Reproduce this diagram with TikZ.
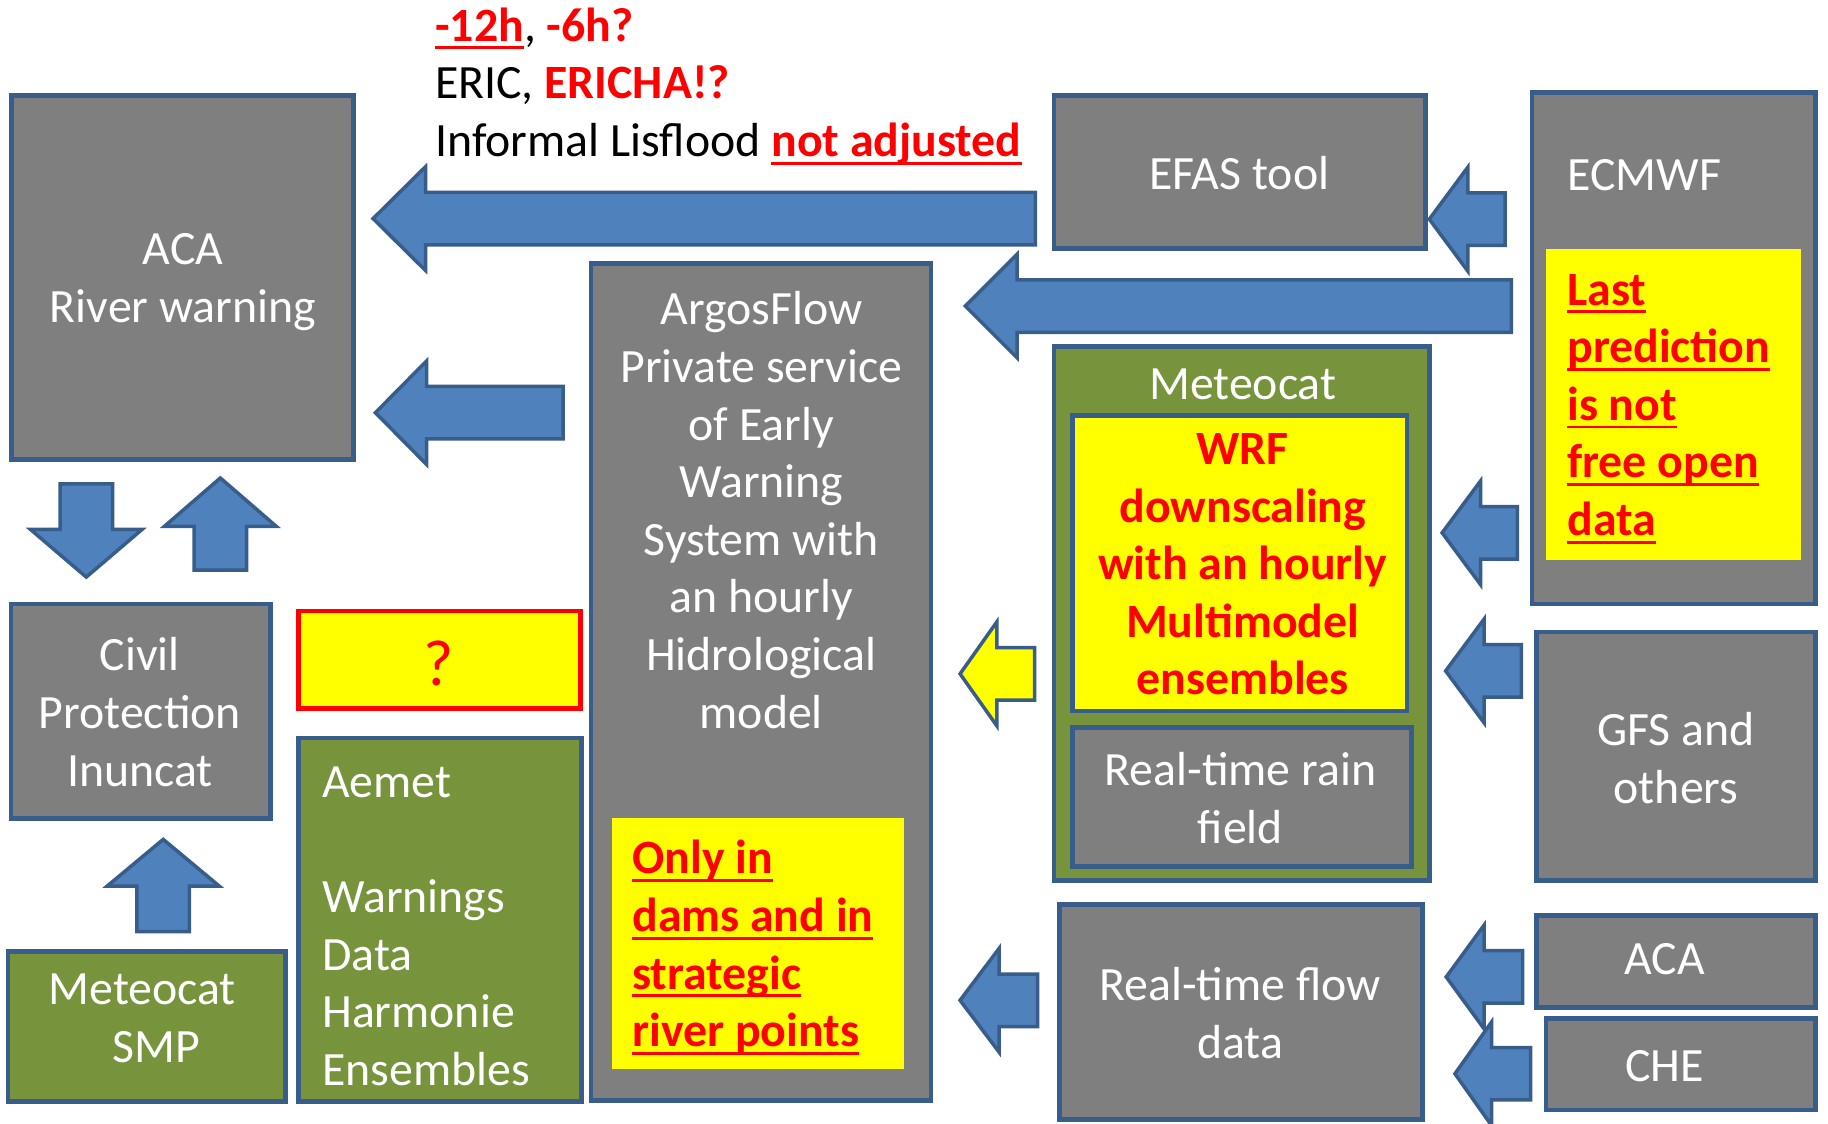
\documentclass[tikz,border=0pt]{standalone}
\usepackage{fontspec}
\setmainfont{Carlito}
\usetikzlibrary{fit}
\definecolor{bord}{HTML}{385D8A}
\definecolor{boxgray}{HTML}{7F7F7F}
\definecolor{ablue}{HTML}{4F81BD}
\definecolor{ogreen}{HTML}{77933C}
\definecolor{yel}{HTML}{FFFF00}
\definecolor{rd}{HTML}{FF0000}
\newcommand\fs{\fontsize{20.5bp}{24.7bp}\selectfont}
\newcommand\tstrut{\rule[-0.25em]{0pt}{1.1em}}
\newcommand\myul[1]{\setbox0\hbox{#1}\rlap{\rule[-0.17em]{\wd0}{0.06em}}\box0}
% left-pointing block arrow: [style] tipx tipy headlen endx
\newcommand\blkL[5][]{\draw[blk,#1] (#2,#3) -- ({#2+#4},{#3-44.5}) -- ({#2+#4},{#3-22.5}) -- (#5,{#3-22.5}) -- (#5,{#3+22.5}) -- ({#2+#4},{#3+22.5}) -- ({#2+#4},{#3+44.5}) -- cycle;}
% vertical block arrow: [style] tipx tipy signed-headlen endy
\newcommand\blkV[5][]{\draw[blk,#1] (#2,#3) -- ({#2-48},{#3+#4}) -- ({#2-22.5},{#3+#4}) -- ({#2-22.5},#5) -- ({#2+22.5},#5) -- ({#2+22.5},{#3+#4}) -- ({#2+48},{#3+#4}) -- cycle;}
\tikzset{
  box/.style={draw=bord, line width=2bp, fill=boxgray, inner sep=0pt, outer sep=0pt},
  gbox/.style={box, fill=ogreen},
  ybox/.style={fill=yel, draw=none, inner sep=0pt, outer sep=0pt},
  blk/.style={draw=bord, line width=1.5bp, fill=ablue},
  txt/.style={inner sep=0pt, yshift=-2.5bp, font=\fs, execute at begin node=\tstrut, execute at end node=\tstrut},
  single/.style={yshift=1.5bp},
  wtxt/.style={txt, text=white, align=center},
  wltxt/.style={txt, text=white, align=left, anchor=west},
  rtxt/.style={txt, text=rd, align=center, font=\fs\bfseries},
  rltxt/.style={txt, text=rd, align=left, anchor=west, font=\fs\bfseries},
}
\begin{document}
\begin{tikzpicture}[x=0.5bp, y=-0.5bp]
\useasboundingbox (0,0) rectangle (1568,964);
\clip (0,0) rectangle (1568,964);

% ---------- boxes ----------
\node[box, fit={(10,82) (303,394)}] (aca) {};
\node[box, fit={(904,82) (1222.5,213)}] (efas) {};
\node[box, fit={(1314,79.5) (1557,518)}] (ecmwf) {};
\node[ybox, fit={(1326,214) (1545,480)}] (lastbox) {};
\node[box, fit={(507,226) (798.5,944)}] (argos) {};
\node[ybox, fit={(525,702) (775,917)}] (onlybox) {};
\node[gbox, fit={(904,297) (1226,755)}] (meteo) {};
\node[box, fill=yel, fit={(920,356.5) (1207,610)}] (wrf) {};
\node[box, fit={(920,624) (1211,743)}] (rain) {};
\node[box, fit={(909,776) (1220,960)}] (flow) {};
\node[box, fit={(1318,542) (1557.5,755)}] (gfs) {};
\node[box, fit={(1318,785.5) (1557.5,864)}] (acas) {};
\node[box, fit={(1326,873.5) (1557.5,952)}] (che) {};
\node[box, fit={(9.5,518) (232,702)}] (civil) {};
\node[box, fill=yel, draw=rd, fit={(256,524) (498,608)}] (qbox) {};
\node[gbox, fit={(256,633) (499,945)}] (aemet) {};
\node[gbox, fit={(7,816) (245,945)}] (smp) {};

% ---------- block arrows ----------
\blkL{320}{187.5}{45}{888}
\blkL{1226}{188}{33}{1291}
\blkL{828}{262.5}{44.5}{1296.5}
\blkL{322}{354}{44}{483}
\blkL[fill=yel]{823.5}{578}{31.5}{887.5}
\blkL{823.5}{858}{33.5}{890}
\blkL{1237}{457}{33}{1301.5}
\blkL{1240}{575.5}{33}{1305}
\blkL{1240.5}{838}{32.5}{1306}
\blkL{1248}{921}{31.5}{1313}
\blkV{74}{495}{-41}{415}
\blkV{189}{410}{41.5}{489}
\blkV{140}{720}{40}{799}

% ---------- texts ----------
\node[txt, anchor=west, align=left] (note) at (373,70.5)
  {\textcolor{rd}{\bfseries\myul{-12h}}, \textcolor{rd}{\bfseries -6h?}\\
   ERIC, \textcolor{rd}{\bfseries ERICHA!?}\\
   Informal Lisflood \textcolor{rd}{\bfseries\myul{not adjusted}}};
\node[wtxt] (acat) at (157,238.5) {ACA\\River warning};
\node[wtxt, single] (efast) at (1063,148) {EFAS tool};
\node[wltxt, single] (ecmwft) at (1344,149.5) {ECMWF};
\node[rltxt] (lastt) at (1344,347.3) {\myul{Last}\\\myul{prediction}\\\myul{is not}\\\myul{free open}\\\myul{data}};
\node[wtxt] (argost) at (653,437.5) {ArgosFlow\\Private service\\of Early\\Warning\\System with\\an hourly\\Hidrological\\model};
\node[rltxt] (onlyt) at (542,809.5) {\myul{Only in}\\\myul{dams and in}\\\myul{strategic}\\\myul{river points}};
\node[wtxt] (civilt) at (120,610.7) {Civil\\Protection\\Inuncat};
\node[txt, text=rd, font=\fontsize{28bp}{33bp}\selectfont] (qt) at (376.5,566.6) {?};
\node[wltxt] (aemett) at (276,794.3) {Aemet\\[24.7bp]Warnings\\Data\\Harmonie\\Ensembles};
\node[wtxt] (smpt) at (134,873.5) {Meteocat\hspace*{12bp}\\SMP};
\node[wtxt, single] (meteot) at (1066,328) {Meteocat};
\node[rtxt] (wrft) at (1066,484) {WRF\\downscaling\\with an hourly\\Multimodel\\ensembles};
\node[wtxt] (raint) at (1064,684.7) {Real-time rain\\field};
\node[wtxt] (gfst) at (1437.7,650) {GFS and\\others};
\node[wtxt, single] (acast) at (1428,822) {ACA};
\node[wtxt, single] (chet) at (1428,913.6) {CHE};
\node[wtxt] (flowt) at (1063.7,869) {Real-time flow\\data};
\end{tikzpicture}
\end{document}
